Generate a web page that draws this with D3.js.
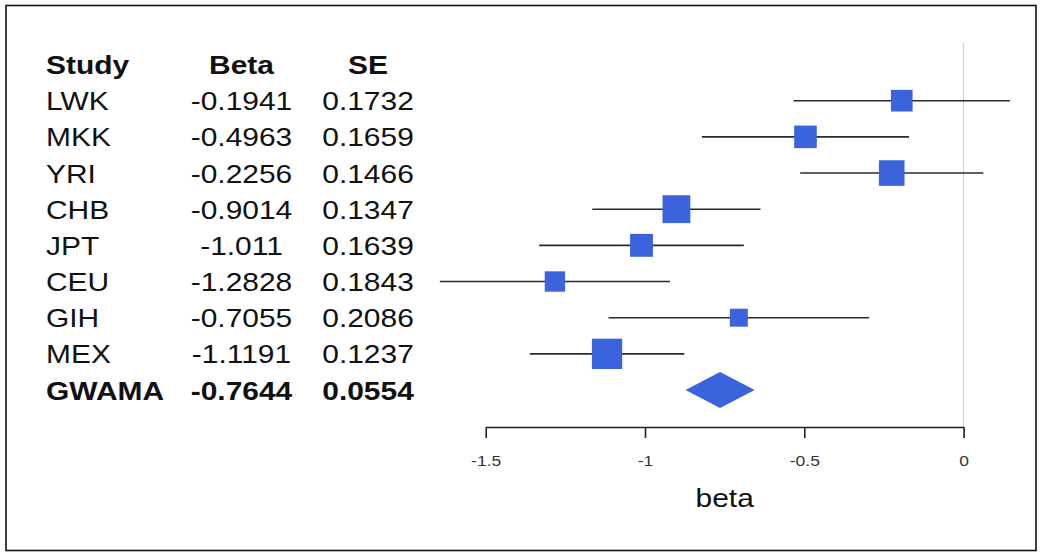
<!DOCTYPE html>
<html>
<head>
<meta charset="utf-8">
<script src="https://cdn.jsdelivr.net/npm/d3@7"></script>
<style>
  html, body { margin: 0; padding: 0; background: #fff; }
  svg { display: block; }
  text { font-family: "Liberation Sans", Arial, sans-serif; }
</style>
</head>
<body>
<svg id="chart" width="1042" height="558"></svg>
<script>
// Per-study estimates
const studies = ["LWK", "MKK", "YRI", "CHB", "JPT", "CEU", "GIH", "MEX"];
const betas   = [-0.1941, -0.4963, -0.2256, -0.9014, -1.011, -1.2828, -0.7055, -1.1191];
const ses     = [0.1732, 0.1659, 0.1466, 0.1347, 0.1639, 0.1843, 0.2086, 0.1237];

// Meta-analysis summary
const pooledName = "GWAMA";
const pooledBeta = -0.7644;
const pooledSE   = 0.0554;

// Table headers and axis ticks
const headers = ["Study", "Beta", "SE"];
const xTicks  = [-1.5, -1, -0.5, 0];
const xLabel  = "beta";

const Z = 1.96;            // 95% confidence interval multiplier
const STRETCH = 1.13;      // horizontal widening of the text glyphs
const BLUE = "#3b63db";

const svg = d3.select("#chart");

// outer frame
svg.append("rect")
  .attr("x", 6).attr("y", 5.5)
  .attr("width", 1030).attr("height", 545)
  .attr("fill", "none").attr("stroke", "#111").attr("stroke-width", 1.6);

// scales
const x = d3.scaleLinear().domain([-1.5, 0]).range([485.7, 963.6]);
const y = d3.scaleLinear().domain([0, 8]).range([100.7, 390]);
const side = d3.scaleLinear().domain([0, 10]).range([0, 37.5]); // square side from precision 1/SE

const rows = studies.map((s, i) => ({ name: s, beta: betas[i], se: ses[i], i }));
const pooled = { name: pooledName, beta: pooledBeta, se: pooledSE, i: studies.length };

// helper: place text with slight horizontal widening
function stretchedText(g, str, px, py, opts) {
  return g.append("text")
    .attr("transform", `translate(${px},${py}) scale(${STRETCH},1)`)
    .attr("text-anchor", opts.anchor || "start")
    .attr("font-size", opts.size || 26.5)
    .attr("font-weight", opts.bold ? "bold" : "normal")
    .attr("fill", opts.fill || "#111")
    .text(str);
}

// ---- table on the left ----
const table = svg.append("g");
const colStudy = 46, colBeta = 241.5, colSE = 368;
const base = 9.5; // offset from row centre to text baseline

const headerY = y(-1) + base;
stretchedText(table, headers[0], colStudy, headerY, { bold: true });
stretchedText(table, headers[1], colBeta, headerY, { bold: true, anchor: "middle" });
stretchedText(table, headers[2], colSE, headerY, { bold: true, anchor: "middle" });

[...rows, pooled].forEach(r => {
  const bold = r === pooled;
  const ty = y(r.i) + base;
  stretchedText(table, r.name, colStudy, ty, { bold });
  stretchedText(table, String(r.beta), colBeta, ty, { bold, anchor: "middle" });
  stretchedText(table, String(r.se), colSE, ty, { bold, anchor: "middle" });
});

// ---- forest plot ----
const plot = svg.append("g");

// reference line at zero
plot.append("line")
  .attr("x1", x(0)).attr("x2", x(0))
  .attr("y1", 43).attr("y2", 427)
  .attr("stroke", "#d4d4d4").attr("stroke-width", 1.2);

// confidence intervals
plot.selectAll("line.ci")
  .data(rows)
  .join("line")
  .attr("class", "ci")
  .attr("x1", d => x(d.beta - Z * d.se))
  .attr("x2", d => x(d.beta + Z * d.se))
  .attr("y1", d => y(d.i)).attr("y2", d => y(d.i))
  .attr("stroke", "#2a2a33").attr("stroke-width", 1.6);

// point estimates, square size by precision
plot.selectAll("rect.est")
  .data(rows)
  .join("rect")
  .attr("class", "est")
  .attr("x", d => x(d.beta) - side(1 / d.se) / 2)
  .attr("y", d => y(d.i) - side(1 / d.se) / 2)
  .attr("width", d => side(1 / d.se))
  .attr("height", d => side(1 / d.se))
  .attr("fill", BLUE);

// pooled estimate diamond spanning its CI
const dh = 18;
const lo = x(pooled.beta - Z * pooled.se), hi = x(pooled.beta + Z * pooled.se);
const cx = x(pooled.beta), cy = y(pooled.i);
plot.append("path")
  .attr("d", `M${lo},${cy} L${cx},${cy - dh} L${hi},${cy} L${cx},${cy + dh} Z`)
  .attr("fill", BLUE);

// ---- x axis ----
const axis = svg.append("g")
  .attr("transform", "translate(0,427)")
  .call(d3.axisBottom(x)
    .tickValues(xTicks)
    .tickSize(11)
    .tickSizeOuter(0)
    .tickPadding(17)
    .tickFormat(d => String(d)));

axis.attr("font-size", 15.5);
axis.select(".domain").attr("stroke", "#222").attr("stroke-width", 1.6);
axis.selectAll(".tick line").attr("stroke", "#222").attr("stroke-width", 1.6);
axis.selectAll(".tick text")
  .attr("font-family", "'Liberation Sans', Arial, sans-serif")
  .style("font-size", "15.5px")
  .attr("fill", "#333")
  .attr("transform", `scale(${STRETCH},1)`);

// axis title
stretchedText(svg, xLabel, (x.range()[0] + x.range()[1]) / 2, 507, { anchor: "middle" });
</script>
</body>
</html>
